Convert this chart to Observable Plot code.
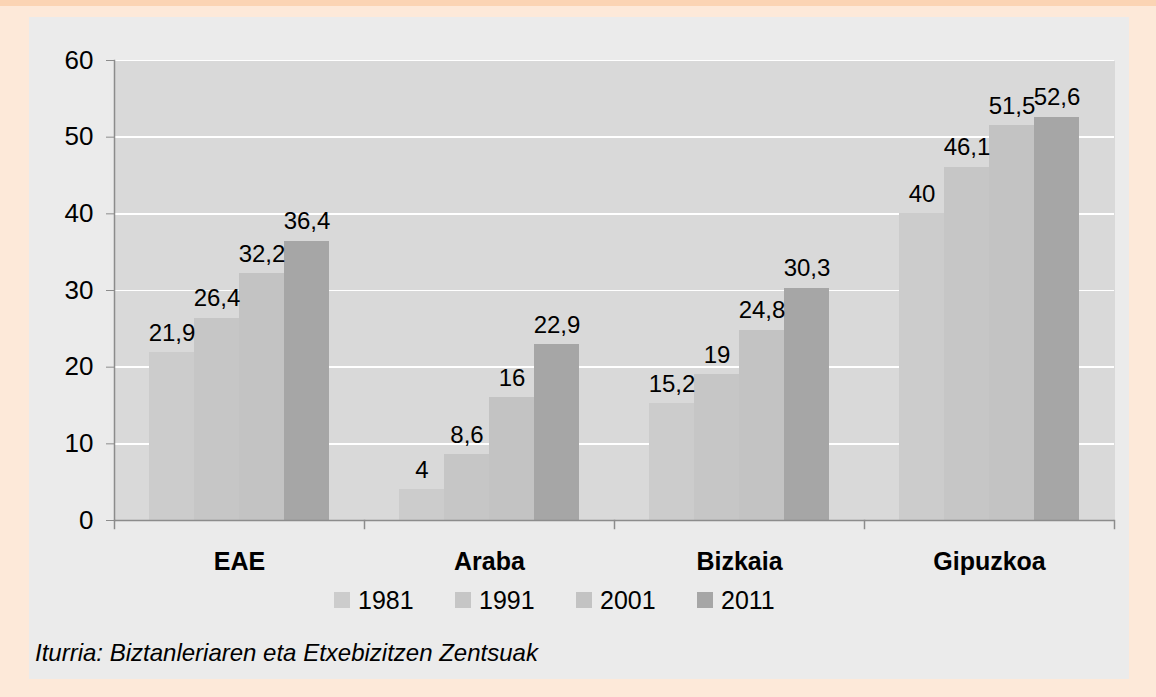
<!DOCTYPE html>
<html>
<head>
<meta charset="utf-8">
<script src="https://cdn.jsdelivr.net/npm/d3@7"></script>
<script src="https://cdn.jsdelivr.net/npm/@observablehq/plot@0.6"></script>
<style>
  html, body { margin: 0; padding: 0; }
  body { width: 1156px; height: 697px; background: #fde9d9; position: relative; overflow: hidden;
         font-family: "Liberation Sans", Arial, sans-serif; }
  #strip { position: absolute; left: 0; top: 0; width: 1156px; height: 6px; background: #fbd4b4; }
  #panel { position: absolute; left: 29px; top: 17px; width: 1100px; height: 662px; background: #ebebeb; }
  #chart { position: absolute; left: 0; top: 0; }
  #legend { position: absolute; left: 334px; top: 588px; display: flex; }
  .item { display: flex; align-items: center; width: 121px; height: 24px; line-height: 24px; font-size: 25px; color: #000; }
  .sw { width: 16px; height: 16px; margin-right: 8px; flex: none; }
  #caption { position: absolute; left: 35px; top: 640px; font-size: 24px; font-style: italic; line-height: 26px; color: #000; }
</style>
</head>
<body>
<div id="strip"></div>
<div id="panel"></div>
<div id="chart"></div>
<div id="legend"></div>
<div id="caption"></div>
<script>
const categories = ["EAE", "Araba", "Bizkaia", "Gipuzkoa"];
const years = ["1981", "1991", "2001", "2011"];
const values1981 = [21.9, 4, 15.2, 40];
const values1991 = [26.4, 8.6, 19, 46.1];
const values2001 = [32.2, 16, 24.8, 51.5];
const values2011 = [36.4, 22.9, 30.3, 52.6];
const colors = ["#cccccc", "#c6c6c6", "#c3c3c3", "#a6a6a6"];
const yTicks = [0, 10, 20, 30, 40, 50, 60];
const sourceText = "Iturria: Biztanleriaren eta Etxebizitzen Zentsuak";

const series = [values1981, values1991, values2001, values2011];
const data = categories.flatMap((c, i) => years.map((y, j) => ({cat: c, year: y, value: series[j][i]})));
const fmt = d => String(d).replace(".", ",");
const axisGray = "#8c8c8c";

const chart = Plot.plot({
  width: 1156,
  height: 580,
  marginLeft: 113,
  marginRight: 42,
  marginTop: 60,
  marginBottom: 60,
  style: {background: "transparent", fontFamily: "'Liberation Sans', Arial, sans-serif", color: "#000", overflow: "visible"},
  fx: {domain: categories, padding: 0, label: null},
  x: {domain: years, paddingInner: 0, paddingOuter: 0.75, axis: null},
  y: {domain: [0, 60], label: null},
  color: {domain: years, range: colors},
  marks: [
    Plot.frame({fill: "#d9d9d9", shapeRendering: "crispEdges"}),
    Plot.ruleY(yTicks.filter(d => d > 0), {stroke: "#ffffff", strokeWidth: 1.5, shapeRendering: "crispEdges"}),
    Plot.barY(data, {fx: "cat", x: "year", y: "value", fill: "year", shapeRendering: "crispEdges"}),
    Plot.text(data, {fx: "cat", x: "year", y: "value", text: d => fmt(d.value), lineAnchor: "bottom", dy: -12, fontSize: 24, fill: "#000"}),
    Plot.ruleY([0], {stroke: axisGray, strokeWidth: 1.5}),
    Plot.frame({anchor: "left", stroke: axisGray, strokeWidth: 1.5, facetAnchor: "left"}),
    Plot.frame({anchor: "left", stroke: axisGray, strokeWidth: 1.5, insetTop: 460, insetBottom: -8}),
    Plot.frame({anchor: "right", stroke: axisGray, strokeWidth: 1.5, insetTop: 460, insetBottom: -8, facetAnchor: "right"}),
    Plot.axisY({ticks: yTicks, tickSize: 8, tickPadding: 13, stroke: axisGray, fill: "#000", fontSize: 26, label: null, tickFormat: d => String(d)}),
    Plot.axisFx({anchor: "bottom", tickSize: 0, tickPadding: 32, fontSize: 25, fontWeight: "bold", fill: "#000", label: null})
  ]
});
document.getElementById("chart").appendChild(chart);

const legend = d3.select("#legend");
years.forEach((y, i) => {
  const it = legend.append("div").attr("class", "item");
  it.append("div").attr("class", "sw").style("background", colors[i]);
  it.append("span").text(y);
});
document.getElementById("caption").textContent = sourceText;
</script>
</body>
</html>
